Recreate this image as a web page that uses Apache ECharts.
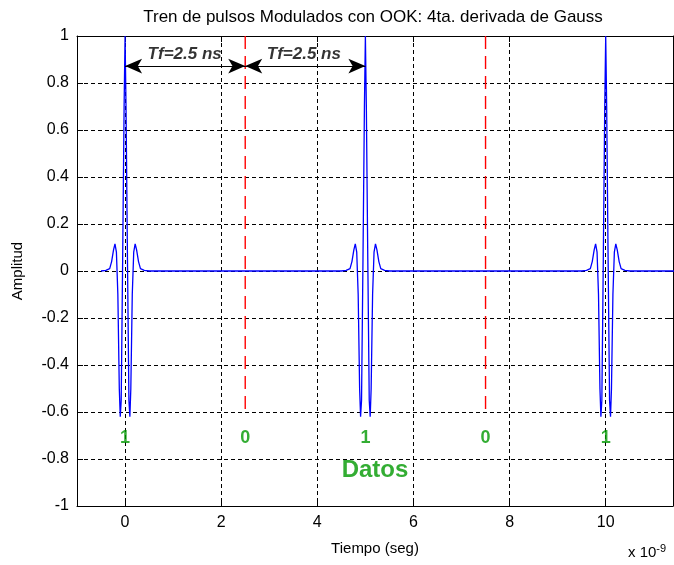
<!DOCTYPE html>
<html><head><meta charset="utf-8">
<script src="https://cdn.jsdelivr.net/npm/echarts@6/dist/echarts.min.js"></script>
<style>html,body{margin:0;padding:0;background:#fff}#c{width:674px;height:565px}</style>
</head><body><div id="c"></div>
<script>
// Signal samples (time in ns, amplitude)
const tiempo = [
  -0.5, -0.4, -0.32, -0.28, -0.24, -0.21, -0.18, -0.15, -0.12, -0.1, -0.08, -0.05, -0.02, 0,
  0.02, 0.05, 0.08, 0.1, 0.12, 0.15, 0.18, 0.21, 0.24, 0.28, 0.32, 0.4, 0.5,
  4.5, 4.6, 4.68, 4.72, 4.76, 4.79, 4.82, 4.85, 4.88, 4.9, 4.92, 4.95, 4.98, 5,
  5.02, 5.05, 5.08, 5.1, 5.12, 5.15, 5.18, 5.21, 5.24, 5.28, 5.32, 5.4, 5.5,
  9.5, 9.6, 9.68, 9.72, 9.76, 9.79, 9.82, 9.85, 9.88, 9.9, 9.92, 9.95, 9.98, 10,
  10.02, 10.05, 10.08, 10.1, 10.12, 10.15, 10.18, 10.21, 10.24, 10.28, 10.32, 10.4, 10.5,
  11.5
];
const amplitud = [
  0, 0.003, 0.01, 0.04, 0.09, 0.115, 0.08, -0.1, -0.5, -0.62, -0.55, 0.05, 0.7, 1.0,
  0.7, 0.05, -0.55, -0.62, -0.5, -0.1, 0.08, 0.115, 0.09, 0.04, 0.01, 0.003, 0,
  0, 0.003, 0.01, 0.04, 0.09, 0.115, 0.08, -0.1, -0.5, -0.62, -0.55, 0.05, 0.7, 1.0,
  0.7, 0.05, -0.55, -0.62, -0.5, -0.1, 0.08, 0.115, 0.09, 0.04, 0.01, 0.003, 0,
  0, 0.003, 0.01, 0.04, 0.09, 0.115, 0.08, -0.1, -0.5, -0.62, -0.55, 0.05, 0.7, 1.0,
  0.7, 0.05, -0.55, -0.62, -0.5, -0.1, 0.08, 0.115, 0.09, 0.04, 0.01, 0.003, 0,
  0
];
const xTicks = [0, 2, 4, 6, 8, 10];
const limitesX = [2.5, 7.5];
const limiteTop = 1;
const limiteBottom = -0.6;
const tfStart = [0, 2.5];
const tfEnd = [2.5, 5];
const tfY = 0.872;
const tfTexto = ['Tf=2.5 ns', 'Tf=2.5 ns'];
const tfTextoX = [1.24, 3.72];
const tfTextoY = 0.92;
const bitX = [0, 2.5, 5, 7.5, 10];
const bits = ['1', '0', '1', '0', '1'];
const bitY = -0.71;
const datosTexto = 'Datos';
const datosX = 5.2;
const datosY = -0.85;

const F = "'Liberation Sans', Arial, sans-serif";
const chart = echarts.init(document.getElementById('c'), null, {renderer: 'canvas'});

const senal = tiempo.map((t, i) => [t, amplitud[i]]);

const series = [
  {
    type: 'line', data: senal, showSymbol: false, symbol: 'none', color: '#0000ff',
    lineStyle: {color: '#0000ff', width: 1.3}, animation: false, z: 3
  }
];
limitesX.forEach(x => {
  series.push({
    type: 'line', data: [[x, limiteTop], [x, limiteBottom]], symbol: 'none', color: '#ff0000',
    lineStyle: {color: '#ff0000', width: 1.4, type: [13, 7]}, animation: false, z: 2
  });
});
series.push({
  type: 'line', data: [], animation: false,
  markLine: {
    silent: true, animation: false, symbol: ['arrow', 'arrow'], symbolSize: [11, 17],
    label: {show: false},
    itemStyle: {color: '#000'},
    lineStyle: {color: '#000', width: 1.2, type: 'solid'},
    data: tfStart.map((s, i) => [{coord: [s, tfY]}, {coord: [tfEnd[i], tfY]}])
  }
});
series.push({
  type: 'scatter', symbolSize: 1, itemStyle: {color: 'rgba(0,0,0,0)'}, animation: false,
  data: tfTextoX.map((x, i) => ({value: [x, tfTextoY], name: tfTexto[i]})),
  label: {show: true, position: 'inside', formatter: p => p.name, color: '#000',
    fontFamily: F, fontSize: 17, fontStyle: 'italic', fontWeight: 'bold'}
});
series.push({
  type: 'scatter', symbolSize: 1, itemStyle: {color: 'rgba(0,0,0,0)'}, animation: false,
  data: bitX.map((x, i) => ({value: [x, bitY], name: bits[i]})),
  label: {show: true, position: 'inside', formatter: p => p.name, color: '#009900',
    fontFamily: F, fontSize: 18, fontWeight: 'bold'}
});
series.push({
  type: 'scatter', symbolSize: 1, itemStyle: {color: 'rgba(0,0,0,0)'}, animation: false,
  data: [{value: [datosX, datosY], name: datosTexto}],
  label: {show: true, position: 'inside', formatter: p => p.name, color: '#009900',
    fontFamily: F, fontSize: 24, fontWeight: 'bold'}
});

const gridLine = {show: true, lineStyle: {color: '#000', width: 1, type: [4, 3]}};

chart.setOption({
  animation: false,
  backgroundColor: '#fff',
  grid: {left: 77, right: 1, top: 36, bottom: 59, containLabel: false},
  graphic: [
    {type: 'text', x: 373, y: 17, style: {text: 'Tren de pulsos Modulados con OOK: 4ta. derivada de Gauss',
      font: "17px 'Liberation Sans', Arial, sans-serif", fill: '#000', align: 'center', verticalAlign: 'middle'}},
    {type: 'text', x: 628, y: 553, style: {
      text: '{a|x 10}{b|-9}', verticalAlign: 'middle', align: 'left',
      rich: {a: {fontSize: 15, fontFamily: F, fill: '#000', color: '#000'},
             b: {fontSize: 11, fontFamily: F, fill: '#000', color: '#000', verticalAlign: 'top', padding: [0, 0, 9, 0]}}
    }}
  ],
  xAxis: [
    {type: 'value', min: -1, max: 11.4, position: 'bottom',
     axisLine: {show: true, onZero: false, lineStyle: {color: '#000', width: 1}},
     axisTick: {show: true, inside: true, length: 6, customValues: xTicks, lineStyle: {color: '#000'}},
     axisLabel: {customValues: xTicks, color: '#000', fontSize: 16, fontFamily: F, margin: 9},
     splitLine: gridLine,
     name: 'Tiempo (seg)', nameLocation: 'middle', nameGap: 35,
     nameTextStyle: {color: '#000', fontSize: 15, fontFamily: F}},
    {type: 'value', min: -1, max: 11.4, position: 'top',
     axisLine: {show: true, onZero: false, lineStyle: {color: '#000', width: 1}},
     axisTick: {show: true, inside: true, length: 6, customValues: xTicks, lineStyle: {color: '#000'}},
     axisLabel: {show: false}, splitLine: {show: false}}
  ],
  yAxis: [
    {type: 'value', min: -1, max: 1, interval: 0.2, position: 'left',
     axisLine: {show: true, onZero: false, lineStyle: {color: '#000', width: 1}},
     axisTick: {show: true, inside: true, length: 6, lineStyle: {color: '#000'}},
     axisLabel: {color: '#000', fontSize: 16, fontFamily: F, margin: 8},
     splitLine: gridLine,
     name: 'Amplitud', nameLocation: 'middle', nameGap: 52, nameRotate: 90,
     nameTextStyle: {color: '#000', fontSize: 15, fontFamily: F}},
    {type: 'value', min: -1, max: 1, interval: 0.2, position: 'right',
     axisLine: {show: true, onZero: false, lineStyle: {color: '#000', width: 1}},
     axisTick: {show: true, inside: true, length: 6, lineStyle: {color: '#000'}},
     axisLabel: {show: false}, splitLine: {show: false}}
  ],
  series: series
});
</script>
</body></html>
